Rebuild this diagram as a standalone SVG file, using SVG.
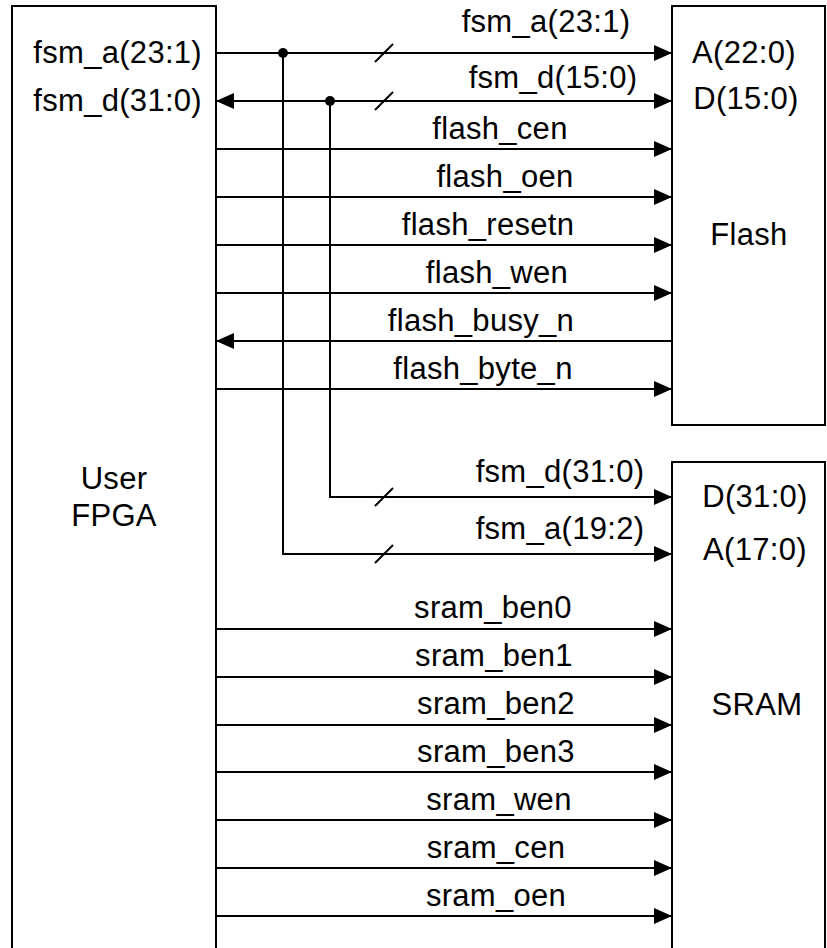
<svg xmlns="http://www.w3.org/2000/svg" width="827" height="948" viewBox="0 0 827 948">
<style>
.box{fill:#fff;stroke:#000;stroke-width:2}
.w{fill:none;stroke:#000;stroke-width:2}
.t{font-family:"Liberation Sans",Arial,sans-serif;font-size:31px;fill:#000;letter-spacing:0.3px}
.m{text-anchor:middle}
.e{text-anchor:end}
</style>
<defs>
<marker id="ah" markerUnits="userSpaceOnUse" markerWidth="18" markerHeight="16" refX="18" refY="8" orient="auto-start-reverse">
<path d="M0,0 L18,8 L0,16 z" fill="#000"/>
</marker>
</defs>
<rect width="827" height="948" fill="#fff"/>
<g id="fpga">
<path class="box" d="M12,960 V6 H216 V960"/>
<text class="t e" x="202" y="63">fsm_a(23:1)</text>
<text class="t e" x="202" y="111">fsm_d(31:0)</text>
<text class="t m" x="114" y="489">User</text>
<text class="t m" x="114" y="526">FPGA</text>
</g>
<g id="flash">
<rect class="box" x="672" y="6" width="153" height="419"/>
<text class="t m" x="744" y="63">A(22:0)</text>
<text class="t m" x="746" y="109">D(15:0)</text>
<text class="t m" x="749" y="245">Flash</text>
</g>
<g id="sram">
<path class="box" d="M672,960 V462 H825 V960"/>
<text class="t m" x="755" y="507">D(31:0)</text>
<text class="t m" x="755" y="560">A(17:0)</text>
<text class="t m" x="757" y="715">SRAM</text>
</g>
<g id="connectors">
<line class="w" x1="216" y1="53" x2="672" y2="53" marker-end="url(#ah)"/>
<line class="w" x1="216" y1="101" x2="672" y2="101" marker-start="url(#ah)" marker-end="url(#ah)"/>
<line class="w" x1="216" y1="149" x2="672" y2="149" marker-end="url(#ah)"/>
<line class="w" x1="216" y1="197" x2="672" y2="197" marker-end="url(#ah)"/>
<line class="w" x1="216" y1="245" x2="672" y2="245" marker-end="url(#ah)"/>
<line class="w" x1="216" y1="293" x2="672" y2="293" marker-end="url(#ah)"/>
<line class="w" x1="672" y1="341" x2="216" y2="341" marker-end="url(#ah)"/>
<line class="w" x1="216" y1="389" x2="672" y2="389" marker-end="url(#ah)"/>
<path class="w" d="M330,101 V497 H672" marker-end="url(#ah)"/>
<path class="w" d="M283,53 V554 H672" marker-end="url(#ah)"/>
<line class="w" x1="216" y1="629" x2="672" y2="629" marker-end="url(#ah)"/>
<line class="w" x1="216" y1="677" x2="672" y2="677" marker-end="url(#ah)"/>
<line class="w" x1="216" y1="725" x2="672" y2="725" marker-end="url(#ah)"/>
<line class="w" x1="216" y1="772" x2="672" y2="772" marker-end="url(#ah)"/>
<line class="w" x1="216" y1="820" x2="672" y2="820" marker-end="url(#ah)"/>
<line class="w" x1="216" y1="868" x2="672" y2="868" marker-end="url(#ah)"/>
<line class="w" x1="216" y1="916" x2="672" y2="916" marker-end="url(#ah)"/>
<circle cx="283" cy="53" r="5" fill="#000"/>
<circle cx="330" cy="101" r="5" fill="#000"/>
<g class="w" stroke-width="1.5">
<line x1="375" y1="62" x2="393" y2="44"/>
<line x1="375" y1="110" x2="393" y2="92"/>
<line x1="375" y1="506" x2="393" y2="488"/>
<line x1="375" y1="563" x2="393" y2="545"/>
</g>
<text class="t m" x="546" y="32">fsm_a(23:1)</text>
<text class="t m" x="553" y="88">fsm_d(15:0)</text>
<text class="t m" x="500" y="139">flash_cen</text>
<text class="t m" x="505" y="187">flash_oen</text>
<text class="t m" x="488" y="235">flash_resetn</text>
<text class="t m" x="497" y="283">flash_wen</text>
<text class="t m" x="481" y="331">flash_busy_n</text>
<text class="t m" x="483" y="379">flash_byte_n</text>
<text class="t m" x="560" y="482">fsm_d(31:0)</text>
<text class="t m" x="560" y="539">fsm_a(19:2)</text>
<text class="t m" x="493" y="618">sram_ben0</text>
<text class="t m" x="494" y="666">sram_ben1</text>
<text class="t m" x="496" y="714">sram_ben2</text>
<text class="t m" x="496" y="762">sram_ben3</text>
<text class="t m" x="499" y="810">sram_wen</text>
<text class="t m" x="496" y="858">sram_cen</text>
<text class="t m" x="496" y="906">sram_oen</text>
</g>
</svg>
